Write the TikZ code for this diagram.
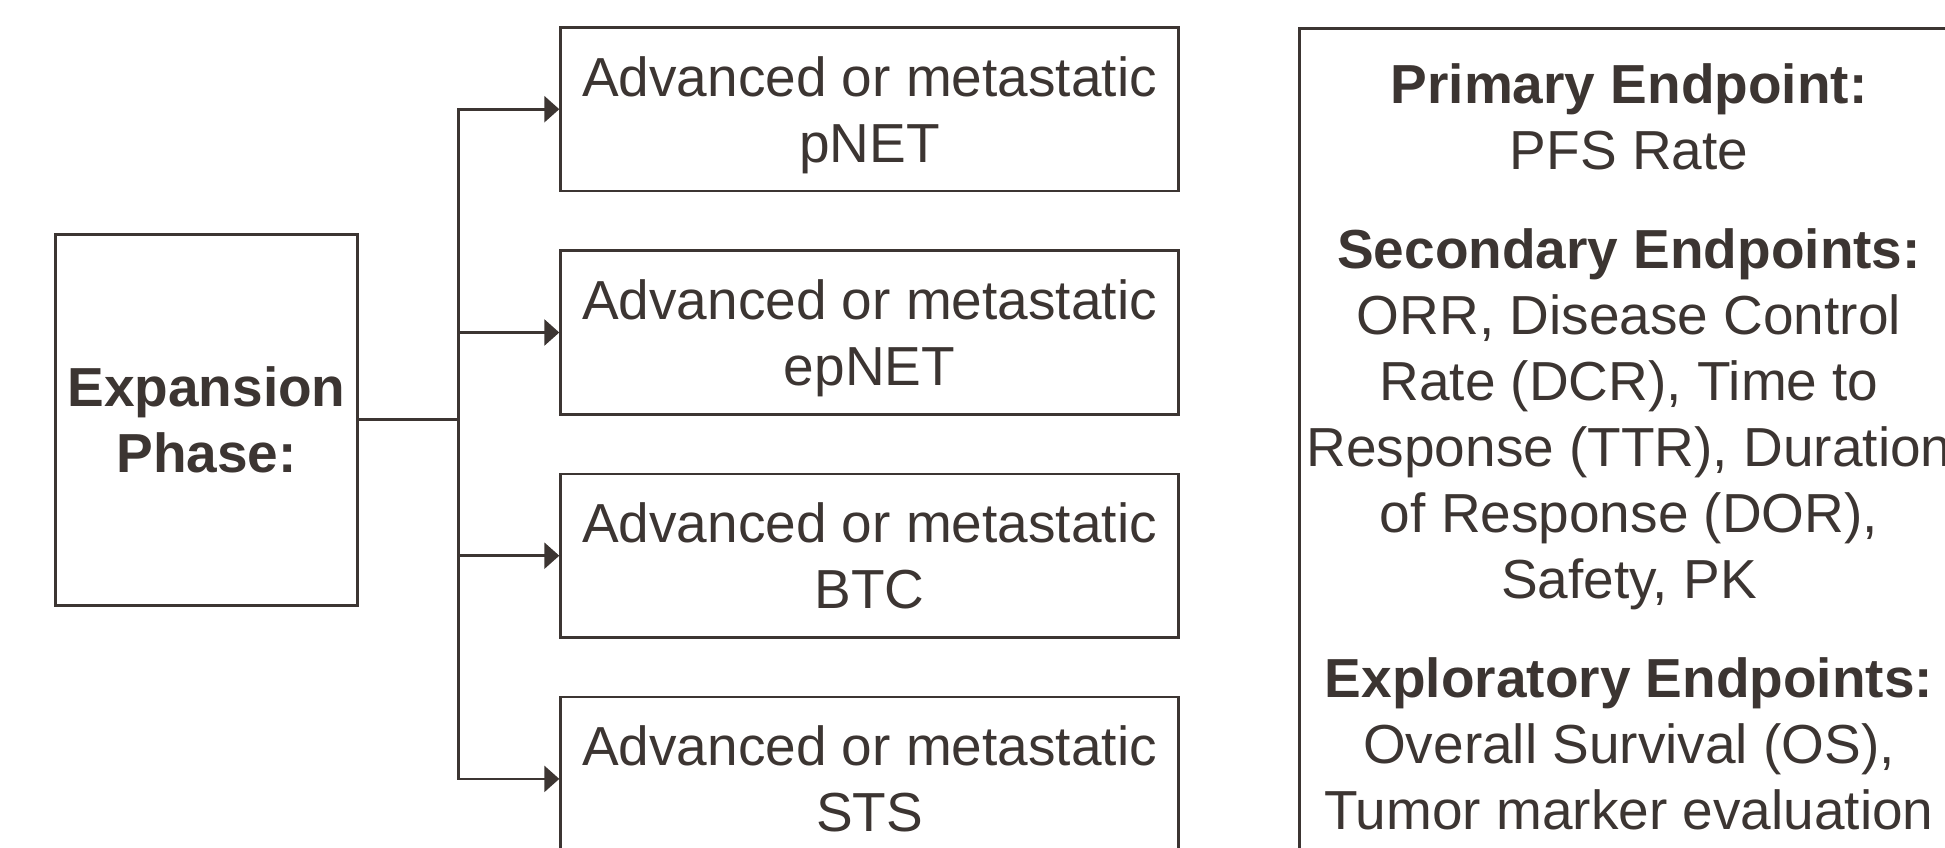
\documentclass[tikz,border=0pt]{standalone}
\usepackage{fontspec}
\setmainfont{Liberation Sans}
\usetikzlibrary{arrows.meta}
\definecolor{ink}{RGB}{60,53,50}
\begin{document}
\begin{tikzpicture}[x=1pt,y=-1pt,
  box/.style={draw=ink, line width=2.7pt, text=ink, inner sep=0pt, align=center,
    font=\fontsize{55}{66}\selectfont},
  stagebox/.style={box, minimum width=617.7pt, minimum height=163.7pt, text depth=0pt},
  conn/.style={draw=ink, line width=2.7pt},
  arr/.style={conn, -{Triangle[length=15pt,width=26pt]}},
  txt/.style={text=ink, inner sep=0pt, align=center, font=\fontsize{55}{66}\selectfont}]
\useasboundingbox (0,0) rectangle (1945,848);
\clip (0,0) rectangle (1945,848);
\node[box, minimum width=301.4pt, minimum height=370.9pt] (exp) at (206.5,419.8)
  {\textbf{Expansion}\\\textbf{Phase:}};
\node[stagebox] (b1) at (869.5,109.2) {Advanced or metastatic\\pNET};
\node[stagebox] (b2) at (869.5,332.5) {Advanced or metastatic\\epNET};
\node[stagebox] (b3) at (869.5,555.7) {Advanced or metastatic\\BTC};
\node[stagebox] (b4) at (869.5,778.9) {Advanced or metastatic\\STS};
\coordinate (split) at (458.7,419.8);
\draw[conn] (exp.east) -- (split);
\draw[conn, line cap=rect] (split |- b1.west) -- (split |- b4.west);
\draw[arr] (split |- b1.west) -- (b1.west);
\draw[arr] (split |- b2.west) -- (b2.west);
\draw[arr] (split |- b3.west) -- (b3.west);
\draw[arr] (split |- b4.west) -- (b4.west);
\node[box, minimum width=662pt, minimum height=900pt, anchor=north west] (endp) at (1298,27) {};
\node[txt, anchor=north] (endtxt) at (1629,63.3)
  {\textbf{Primary Endpoint:}\\
   PFS Rate\\[33pt]
   \textbf{Secondary Endpoints:}\\
   ORR, Disease Control\\
   Rate (DCR), Time to\\
   Response (TTR), Duration\\
   of Response (DOR),\\
   Safety, PK\\[33pt]
   \textbf{Exploratory Endpoints:}\\
   Overall Survival (OS),\\
   Tumor marker evaluation};
\end{tikzpicture}
\end{document}
